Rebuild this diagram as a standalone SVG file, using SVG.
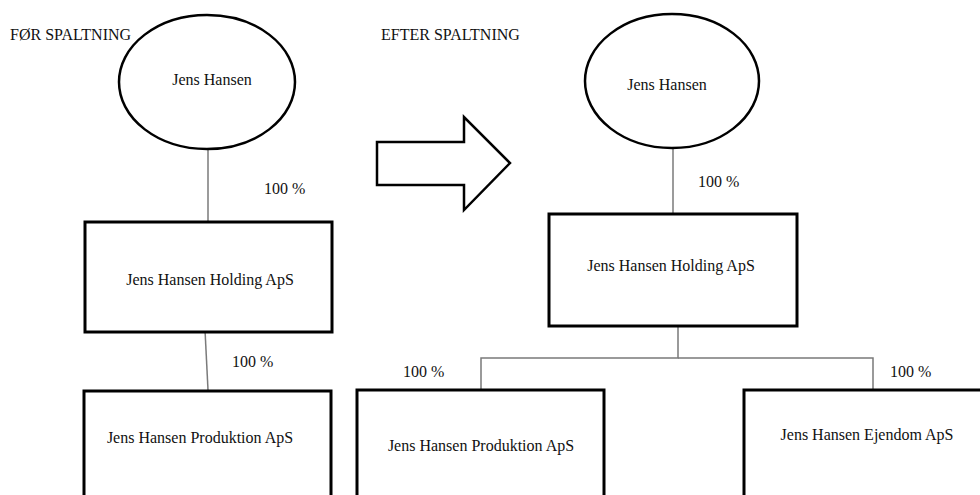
<svg xmlns="http://www.w3.org/2000/svg" width="980" height="495" viewBox="0 0 980 495">
<style>
  text { font-family: 'Liberation Serif', 'DejaVu Serif', serif; font-size: 16px; fill: #111; }
  .c { text-anchor: middle; }
  .box { fill: #fff; stroke: #000; stroke-width: 3; }
  .ell { fill: #fff; stroke: #000; stroke-width: 2.5; }
  .ln { fill: none; stroke: #7a7a7a; stroke-width: 1.5; }
</style>
<rect width="980" height="495" fill="#fff"/>
<text x="10" y="40" font-family="Liberation Serif, serif">FØR SPALTNING</text>
<text x="381" y="40" font-family="Liberation Serif, serif">EFTER SPALTNING</text>

<g id="connectors">
  <line class="ln" x1="208" y1="150" x2="208" y2="222"/>
  <line class="ln" x1="205" y1="330" x2="208" y2="390"/>
  <line class="ln" x1="673" y1="148" x2="673" y2="214"/>
  <polyline class="ln" points="678,326 678,358 481,358 481,390"/>
  <polyline class="ln" points="678,358 873,358 873,390"/>
  <text x="264" y="194">100 %</text>
  <text x="232" y="367">100 %</text>
  <text x="698" y="187">100 %</text>
  <text x="403" y="377">100 %</text>
  <text x="890" y="377">100 %</text>
</g>

<g id="arrow">
  <polygon points="377,142 464,142 464,117 510,163 464,210 464,185 377,185" fill="#fff" stroke="#000" stroke-width="2.5"/>
</g>

<g id="left-person">
  <ellipse class="ell" cx="207" cy="82" rx="88" ry="67"/>
  <text class="c" x="212" y="85">Jens Hansen</text>
</g>
<g id="left-holding">
  <rect class="box" x="85" y="222" width="247" height="110"/>
  <text class="c" x="210" y="285">Jens Hansen Holding ApS</text>
</g>
<g id="left-produktion">
  <rect class="box" x="84" y="391" width="247" height="120"/>
  <text class="c" x="200" y="443">Jens Hansen Produktion ApS</text>
</g>

<g id="right-person">
  <ellipse class="ell" cx="672" cy="81" rx="87" ry="67"/>
  <text class="c" x="667" y="90">Jens Hansen</text>
</g>
<g id="right-holding">
  <rect class="box" x="549" y="214" width="248" height="112"/>
  <text class="c" x="671" y="271">Jens Hansen Holding ApS</text>
</g>
<g id="right-produktion">
  <rect class="box" x="357" y="390" width="247" height="120"/>
  <text class="c" x="481" y="451">Jens Hansen Produktion ApS</text>
</g>
<g id="right-ejendom">
  <rect class="box" x="744" y="390" width="260" height="120"/>
  <text class="c" x="867" y="440">Jens Hansen Ejendom ApS</text>
</g>
</svg>
